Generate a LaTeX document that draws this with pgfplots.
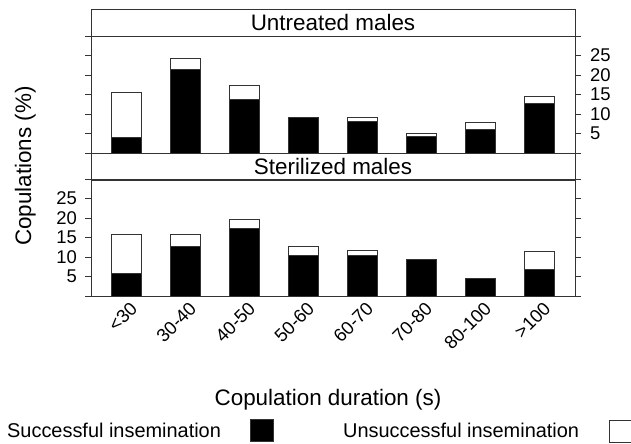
\documentclass[border=0pt]{standalone}
\usepackage{fontspec}
\setmainfont{Liberation Sans}
\usepackage{pgfplots}
\pgfplotsset{compat=1.18}
\usepackage{pgfplotstable}

\pgfplotstableread{
x succ unsucc
0 4.1 11.3
1 21.4 2.8
2 13.7 3.7
3 9.0 0.0
4 8.0 1.0
5 4.3 0.7
6 6.0 1.8
7 12.8 1.8
}\topdata

\pgfplotstableread{
x succ unsucc
0 5.7 10.1
1 12.6 3.2
2 17.2 2.4
3 10.4 2.3
4 10.4 1.15
5 9.3 0.0
6 4.6 0.0
7 6.8 4.6
}\botdata

\definecolor{frame}{gray}{0.2}

\pgfplotsset{
  panel/.style={
    width=484bp, height=117bp, scale only axis,
    xmin=-0.6, xmax=7.6, ymin=0, ymax=30,
    ybar stacked, bar width=0.5,
    xtick={0,...,7}, xtick style={draw=none},
    ytick={0,5,...,30},
    yticklabels={{},5,10,15,20,25,{}},
    tick align=outside,
    major tick length=6bp,
    ytick style={line width=1bp, frame},
    axis line style={line width=1bp, frame},
    /pgf/number format/assume math mode=true,
    ytick pos=both,
  },
  succ/.style={fill=black, draw=frame, line width=1bp},
  unsucc/.style={fill=white, draw=frame, line width=1bp},
}

\begin{document}
\begin{tikzpicture}
\path[use as bounding box] (0,0) rectangle (631bp,-444bp);

% top panel
\begin{axis}[panel, at={(91bp,-153bp)}, anchor=south west,
  yticklabel pos=right, xticklabels={},
  yticklabel style={font=\fontsize{18.5}{18.5}\selectfont, inner sep=1pt, xshift=8bp}]
\addplot[succ] table[x=x, y=succ]{\topdata};
\addplot[unsucc] table[x=x, y=unsucc]{\topdata};
\end{axis}

% bottom panel
\begin{axis}[panel, at={(91bp,-296bp)}, anchor=south west,
  yticklabel pos=left,
  yticklabel style={font=\fontsize{18.5}{18.5}\selectfont, inner sep=1pt, xshift=-7bp},
  xticklabels={<30,30-40,40-50,50-60,60-70,70-80,80-100,>100},
  xticklabel style={rotate=45, anchor=north east, inner sep=0pt, xshift=3bp, yshift=-1bp,
    font=\fontsize{18.5}{18.5}\selectfont}]
\addplot[succ] table[x=x, y=succ]{\botdata};
\addplot[unsucc] table[x=x, y=unsucc]{\botdata};
\end{axis}

% strips
\draw[line width=1bp, frame] (91bp,-9bp) rectangle (575bp,-36bp);
\draw[line width=1bp, frame] (91bp,-153bp) rectangle (575bp,-180bp);
\node[anchor=base, font=\fontsize{22.5}{22.5}\selectfont, inner sep=0pt] at (333bp,-30.5bp) {Untreated males};
\node[anchor=base, font=\fontsize{22.5}{22.5}\selectfont, inner sep=0pt] at (333bp,-174.5bp) {Sterilized males};

% axis labels
\node[rotate=90, anchor=base, font=\fontsize{22.5}{22.5}\selectfont, inner sep=0pt] at (31bp,-166bp) {Copulations (\%)};
\node[anchor=base, font=\fontsize{22.5}{22.5}\selectfont, inner sep=0pt] at (328bp,-405bp) {Copulation duration (s)};

% legend
\node[anchor=base west, font=\fontsize{20}{20}\selectfont, inner sep=0pt] at (7bp,-437bp) {Successful insemination};
\draw[fill=black, draw=frame, line width=1bp] (250bp,-419bp) rectangle (273bp,-441bp);
\node[anchor=base west, font=\fontsize{20}{20}\selectfont, inner sep=0pt] at (343bp,-437bp) {Unsuccessful insemination};
\draw[fill=white, draw=frame, line width=1bp] (609bp,-420bp) rectangle (631bp,-442bp);
\end{tikzpicture}
\end{document}
